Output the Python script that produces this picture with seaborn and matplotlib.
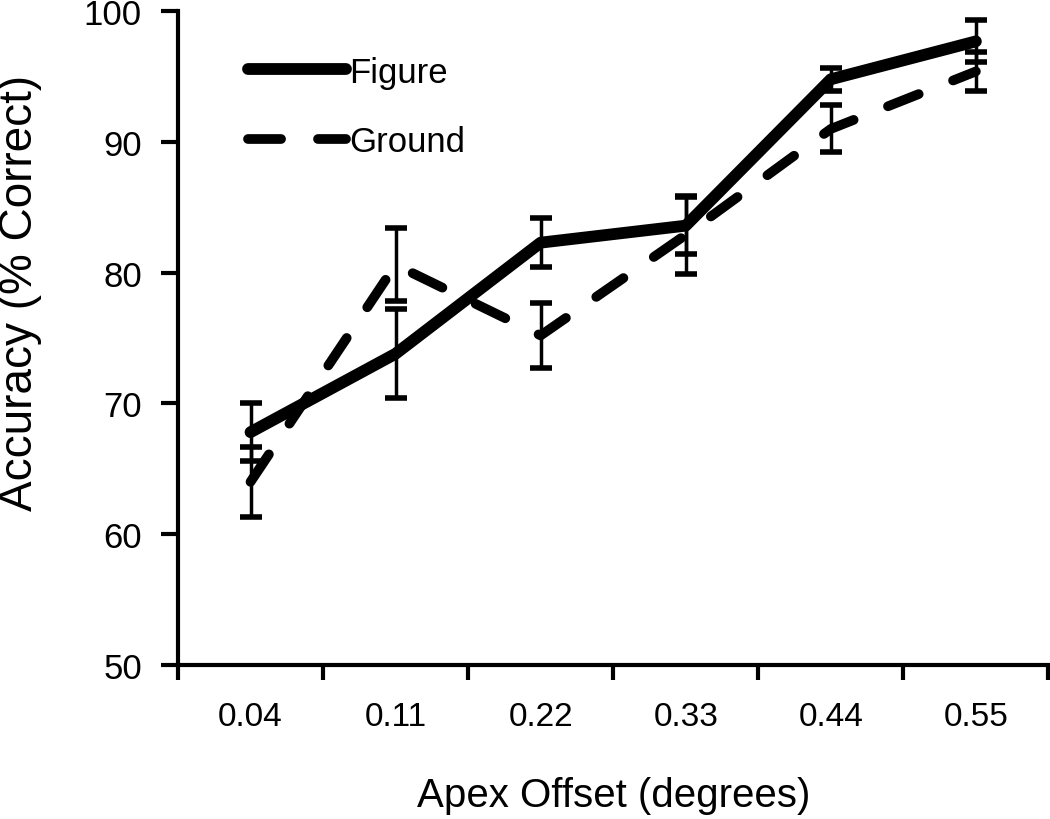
import numpy as np
import pandas as pd
import seaborn as sns
import matplotlib.pyplot as plt

# apex offset categories (degrees) and mean accuracy +/- error
offsets = ["0.04", "0.11", "0.22", "0.33", "0.44", "0.55"]
figure_acc = [67.8, 73.8, 82.3, 83.6, 94.8, 97.7]
figure_err = [2.2, 3.4, 1.9, 2.2, 0.9, 1.6]
ground_acc = [64.0, 80.6, 75.2, 82.9, 91.0, 95.4]
ground_err = [2.7, 2.8, 2.5, 3.0, 1.8, 1.5]

sns.set_style("ticks")
plt.rcParams["font.family"] = ["Liberation Sans", "DejaVu Sans"]
for k in ["text.color", "axes.labelcolor", "xtick.color", "ytick.color", "axes.edgecolor"]:
    plt.rcParams[k] = "black"

pos = np.arange(len(offsets))
df_fig = pd.DataFrame({"pos": pos, "acc": figure_acc})
df_gnd = pd.DataFrame({"pos": pos, "acc": ground_acc})

fig = plt.figure(figsize=(10.5, 8.2), dpi=100)
ax = fig.add_axes([0.1695, 0.188, 0.829, 0.797])

sns.lineplot(data=df_gnd, x="pos", y="acc", color="black", lw=7,
             linestyle=(0, (3.4, 3.8)), dash_capstyle="round",
             solid_capstyle="round", label="Ground", ax=ax)
sns.lineplot(data=df_fig, x="pos", y="acc", color="black", lw=8.5,
             solid_capstyle="round", label="Figure", ax=ax)

ax.errorbar(pos, ground_acc, yerr=ground_err, fmt="none", ecolor="black",
            elinewidth=2.5, capsize=8, capthick=4)
ax.errorbar(pos, figure_acc, yerr=figure_err, fmt="none", ecolor="black",
            elinewidth=2.5, capsize=8, capthick=4)

ax.set_xlim(-0.5, len(offsets) - 0.5)
ax.set_ylim(50, 100)
ax.set_yticks(range(50, 101, 10))
ax.set_xticks(pos)
ax.set_xticklabels(offsets)
ax.set_xticks(np.arange(-0.5, len(offsets)), minor=True)
ax.tick_params(axis="x", which="major", length=0, labelsize=24, pad=26)
ax.tick_params(axis="x", which="minor", length=11, width=3, direction="out")
ax.tick_params(axis="y", length=12, width=3, labelsize=25, pad=14)

for s in ["left", "bottom"]:
    ax.spines[s].set_linewidth(3)
sns.despine(ax=ax)

ax.set_xlabel("Apex Offset (degrees)", fontsize=29, labelpad=32)
ax.set_ylabel("Accuracy (% Correct)", fontsize=33)
ax.yaxis.set_label_coords(-0.156, 0.57)

h, l = ax.get_legend_handles_labels()
ax.legend(h[::-1], l[::-1], loc="upper left", bbox_to_anchor=(0.045, 0.98),
          frameon=False, fontsize=25, handlelength=2.8, handletextpad=0.1,
          labelspacing=1.05)

fig.savefig("out.png", dpi=100)
